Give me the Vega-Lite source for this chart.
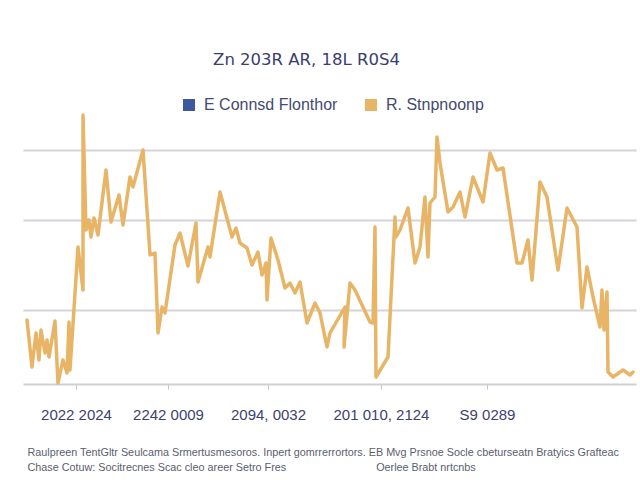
{
  "$schema": "https://vega.github.io/schema/vega-lite/v6.json",
  "width": 613,
  "height": 276,
  "autosize": "none",
  "padding": {"left": 23, "top": 108, "right": 4, "bottom": 96},
  "background": "white",
  "title": {
    "text": "Zn 203R AR, 18L R0S4",
    "anchor": "middle",
    "dx": -23,
    "offset": 29,
    "font": "DejaVu Sans",
    "fontSize": 16.5,
    "fontWeight": "normal",
    "color": "#3a3e6c"
  },
  "config": {
    "view": {"stroke": null},
    "font": "Liberation Sans"
  },
  "data": {
    "values": [
      {"i": 1, "t": 4, "v": 64}, {"i": 2, "t": 9, "v": 17}, {"i": 3, "t": 13, "v": 51},
      {"i": 4, "t": 16, "v": 24}, {"i": 5, "t": 18, "v": 54}, {"i": 6, "t": 22, "v": 31},
      {"i": 7, "t": 24, "v": 44}, {"i": 8, "t": 26, "v": 27}, {"i": 9, "t": 32, "v": 63},
      {"i": 10, "t": 34, "v": 21}, {"i": 11, "t": 35, "v": 1}, {"i": 12, "t": 40, "v": 24},
      {"i": 13, "t": 44, "v": 11}, {"i": 14, "t": 46, "v": 62}, {"i": 15, "t": 47, "v": 14},
      {"i": 16, "t": 55, "v": 137}, {"i": 17, "t": 60, "v": 94}, {"i": 18, "t": 60, "v": 269},
      {"i": 19, "t": 63, "v": 154}, {"i": 20, "t": 66, "v": 164}, {"i": 21, "t": 68, "v": 147},
      {"i": 22, "t": 71, "v": 166}, {"i": 23, "t": 75, "v": 149}, {"i": 24, "t": 83, "v": 214},
      {"i": 25, "t": 88, "v": 162}, {"i": 26, "t": 96, "v": 189}, {"i": 27, "t": 100, "v": 159},
      {"i": 28, "t": 107, "v": 207}, {"i": 29, "t": 110, "v": 197}, {"i": 30, "t": 120, "v": 234},
      {"i": 31, "t": 127, "v": 129}, {"i": 32, "t": 132, "v": 131}, {"i": 33, "t": 135, "v": 51},
      {"i": 34, "t": 139, "v": 77}, {"i": 35, "t": 142, "v": 71}, {"i": 36, "t": 152, "v": 139},
      {"i": 37, "t": 157, "v": 151}, {"i": 38, "t": 165, "v": 118}, {"i": 39, "t": 173, "v": 161},
      {"i": 40, "t": 175, "v": 102}, {"i": 41, "t": 185, "v": 137}, {"i": 42, "t": 187, "v": 127},
      {"i": 43, "t": 197, "v": 192}, {"i": 44, "t": 209, "v": 147}, {"i": 45, "t": 213, "v": 156},
      {"i": 46, "t": 217, "v": 141}, {"i": 47, "t": 224, "v": 136}, {"i": 48, "t": 229, "v": 119},
      {"i": 49, "t": 235, "v": 132}, {"i": 50, "t": 239, "v": 109}, {"i": 51, "t": 243, "v": 121},
      {"i": 52, "t": 244, "v": 84}, {"i": 53, "t": 248, "v": 146}, {"i": 54, "t": 255, "v": 124},
      {"i": 55, "t": 262, "v": 96}, {"i": 56, "t": 267, "v": 101}, {"i": 57, "t": 272, "v": 91},
      {"i": 58, "t": 277, "v": 102}, {"i": 59, "t": 284, "v": 61}, {"i": 60, "t": 292, "v": 81},
      {"i": 61, "t": 297, "v": 71}, {"i": 62, "t": 304, "v": 37}, {"i": 63, "t": 307, "v": 51},
      {"i": 64, "t": 322, "v": 77}, {"i": 65, "t": 321, "v": 37}, {"i": 66, "t": 327, "v": 101},
      {"i": 67, "t": 332, "v": 94}, {"i": 68, "t": 347, "v": 62}, {"i": 69, "t": 350, "v": 61},
      {"i": 70, "t": 352, "v": 157}, {"i": 71, "t": 353, "v": 7}, {"i": 72, "t": 365, "v": 27},
      {"i": 73, "t": 372, "v": 167}, {"i": 74, "t": 373, "v": 147}, {"i": 75, "t": 377, "v": 154},
      {"i": 76, "t": 385, "v": 176}, {"i": 77, "t": 392, "v": 121}, {"i": 78, "t": 397, "v": 137},
      {"i": 79, "t": 402, "v": 187}, {"i": 80, "t": 405, "v": 127}, {"i": 81, "t": 407, "v": 181},
      {"i": 82, "t": 412, "v": 187}, {"i": 83, "t": 414, "v": 247}, {"i": 84, "t": 417, "v": 221},
      {"i": 85, "t": 425, "v": 172}, {"i": 86, "t": 430, "v": 177}, {"i": 87, "t": 437, "v": 192},
      {"i": 88, "t": 442, "v": 167}, {"i": 89, "t": 450, "v": 207}, {"i": 90, "t": 460, "v": 182},
      {"i": 91, "t": 467, "v": 231}, {"i": 92, "t": 474, "v": 214}, {"i": 93, "t": 480, "v": 216},
      {"i": 94, "t": 494, "v": 121}, {"i": 95, "t": 499, "v": 121}, {"i": 96, "t": 505, "v": 144},
      {"i": 97, "t": 509, "v": 104}, {"i": 98, "t": 517, "v": 202}, {"i": 99, "t": 524, "v": 187},
      {"i": 100, "t": 535, "v": 114}, {"i": 101, "t": 544, "v": 176}, {"i": 102, "t": 554, "v": 157},
      {"i": 103, "t": 559, "v": 76}, {"i": 104, "t": 564, "v": 117}, {"i": 105, "t": 570, "v": 87},
      {"i": 106, "t": 577, "v": 57}, {"i": 107, "t": 579, "v": 94}, {"i": 108, "t": 581, "v": 54},
      {"i": 109, "t": 584, "v": 92}, {"i": 110, "t": 585, "v": 12}, {"i": 111, "t": 590, "v": 7},
      {"i": 112, "t": 600, "v": 14}, {"i": 113, "t": 607, "v": 9}, {"i": 114, "t": 610, "v": 12}
    ]
  },
  "transform": [{"calculate": "'R. Stnpnoonp'", "as": "series"}],
  "mark": {"type": "line", "strokeWidth": 3.5, "strokeJoin": "round", "strokeCap": "round"},
  "encoding": {
    "x": {
      "field": "t",
      "type": "quantitative",
      "scale": {"domain": [0, 613], "nice": false, "zero": false},
      "axis": {
        "values": [53, 145, 245, 358, 464],
        "labelExpr": "datum.value == 53 ? '2022 2024' : datum.value == 145 ? '2242 0009' : datum.value == 245 ? '2094, 0032' : datum.value == 358 ? '201 010, 2124' : 'S9 0289'",
        "grid": false,
        "domainColor": "#cfcfd6",
        "domainWidth": 2,
        "tickColor": "#c4c4cc",
        "tickSize": 5,
        "labelPadding": 18,
        "labelFont": "Liberation Sans",
        "labelFontSize": 15,
        "labelColor": "#3d4270",
        "title": [
          "Raulpreen TentGltr Seulcama Srmertusmesoros. Inpert gomrrerrortors. EB Mvg Prsnoe Socle cbeturseatn Bratyics Grafteac",
          "Chase Cotuw: Socitrecnes Scac cleo areer Setro Fres\u00a0\u00a0\u00a0\u00a0\u00a0\u00a0\u00a0\u00a0\u00a0\u00a0\u00a0\u00a0\u00a0\u00a0\u00a0\u00a0\u00a0\u00a0\u00a0\u00a0\u00a0\u00a0\u00a0\u00a0\u00a0\u00a0\u00a0\u00a0\u00a0\u00a0Oerlee Brabt nrtcnbs"
        ],
        "titleFont": "Liberation Sans",
        "titleFontSize": 10.8,
        "titleFontWeight": "normal",
        "titleColor": "#5a5d70",
        "titleAnchor": "start",
        "titleAlign": "left",
        "titleBaseline": "top",
        "titleX": 4,
        "titleY": 62,
        "titleLineHeight": 15
      }
    },
    "y": {
      "field": "v",
      "type": "quantitative",
      "scale": {"domain": [0, 276], "nice": false},
      "axis": {
        "values": [74, 164, 234],
        "grid": true,
        "gridColor": "#d4d4db",
        "gridWidth": 2,
        "labels": false,
        "ticks": false,
        "domain": false,
        "title": null
      }
    },
    "order": {"field": "i", "type": "quantitative"},
    "color": {
      "field": "series",
      "type": "nominal",
      "scale": {"domain": ["E Connsd Flonthor", "R. Stnpnoonp"], "range": ["#3f57a0", "#e8b567"]},
      "legend": {
        "title": null,
        "orient": "none",
        "direction": "horizontal",
        "legendX": 158,
        "legendY": -11,
        "symbolType": "square",
        "symbolSize": 36,
        "symbolStrokeWidth": 6,
        "labelFont": "Liberation Sans",
        "labelFontSize": 16,
        "labelColor": "#454a6e",
        "columnPadding": 18,
        "labelOffset": 7
      }
    }
  }
}
